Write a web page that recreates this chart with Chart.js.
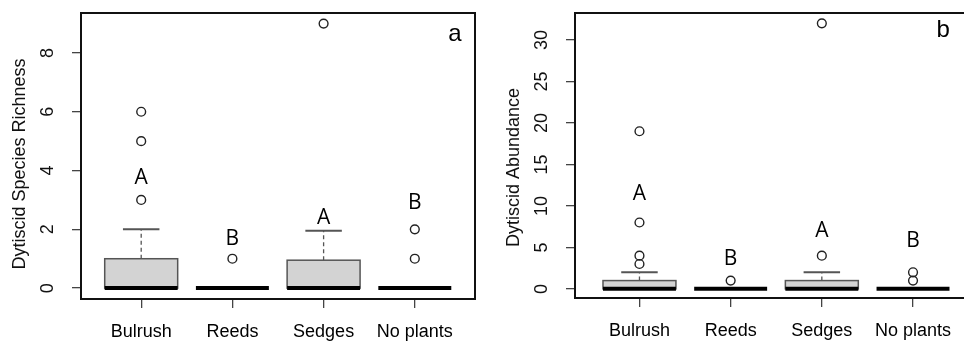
<!DOCTYPE html>
<html>
<head>
<meta charset="utf-8">
<script src="https://cdn.jsdelivr.net/npm/chart.js@4.4.1/dist/chart.umd.min.js"></script>
<style>
    html, body { margin: 0; padding: 0; background: #fff; overflow: hidden; }
    #wrap { position: relative; width: 964px; height: 342px; overflow: hidden; }
    .panel { position: absolute; top: 0; }
    #panelA { left: 0; }
    #panelB { left: 484px; }
</style>
</head>
<body>
<div id="wrap">
    <div class="panel" id="panelA"><canvas id="richnessChart" width="484" height="342"></canvas></div>
    <div class="panel" id="panelB"><canvas id="abundanceChart" width="495" height="342"></canvas></div>
</div>
<script>
// --- DATA ---
const categories = ['Bulrush', 'Reeds', 'Sedges', 'No plants'];

// (a) species richness
const richLower = [0, 0, 0, 0];
const richQ1 = [0, 0, 0, 0];
const richMedian = [0, 0, 0, 0];
const richQ3 = [1, 0, 0.95, 0];
const richUpper = [2, 0, 1.95, 0];
const richOutliers = [[3, 5, 6], [1], [9], [1, 2]];
const richLetters = ['A', 'B', 'A', 'B'];
const richLetterAt = [3.8, 1.72, 2.44, 2.95];
const richTicks = [0, 2, 4, 6, 8];

// (b) abundance
const abunLower = [0, 0, 0, 0];
const abunQ1 = [0, 0, 0, 0];
const abunMedian = [0, 0, 0, 0];
const abunQ3 = [1, 0, 1, 0];
const abunUpper = [2, 0, 2, 0];
const abunOutliers = [[3, 4, 8, 19], [1], [4, 32], [1, 2]];
const abunLetters = ['A', 'B', 'A', 'B'];
const abunLetterAt = [11.6, 3.75, 7.2, 6.0];
const abunTicks = [0, 5, 10, 15, 20, 25, 30];

// --- STYLE ---
const BOX_WIDTH = 0.8;
const SANS = '"Liberation Sans", Arial, sans-serif';

function outlierPoints(groups) {
    const pts = [];
    groups.forEach((vals, i) => vals.forEach(v => pts.push({ x: i + 1, y: v })));
    return pts;
}

// draws boxes, whiskers, medians, letters and R-style y labels
function boxPlotPlugin(cfg) {
    return {
        id: 'boxplot_' + cfg.panel,
        beforeDatasetsDraw(chart) {
            const { ctx, chartArea: a, scales: { x, y } } = chart;
            ctx.save();
            cfg.median.forEach((m, i) => {
                const cx = x.getPixelForValue(i + 1);
                const half = x.getPixelForValue(i + 1 + BOX_WIDTH / 2) - cx;
                const yQ1 = y.getPixelForValue(cfg.q1[i]);
                const yQ3 = y.getPixelForValue(cfg.q3[i]);
                const yHi = y.getPixelForValue(cfg.upper[i]);
                const yLo = y.getPixelForValue(cfg.lower[i]);
                const yMed = y.getPixelForValue(m);

                // whiskers
                ctx.strokeStyle = '#555';
                ctx.lineWidth = 1.3;
                if (cfg.upper[i] > cfg.q3[i]) {
                    ctx.setLineDash([4, 3]);
                    ctx.beginPath(); ctx.moveTo(cx, yQ3); ctx.lineTo(cx, yHi); ctx.stroke();
                    ctx.setLineDash([]);
                    ctx.lineWidth = 2;
                    ctx.beginPath(); ctx.moveTo(cx - half / 2, yHi); ctx.lineTo(cx + half / 2, yHi); ctx.stroke();
                }
                if (cfg.lower[i] < cfg.q1[i]) {
                    ctx.lineWidth = 1.3;
                    ctx.setLineDash([4, 3]);
                    ctx.beginPath(); ctx.moveTo(cx, yQ1); ctx.lineTo(cx, yLo); ctx.stroke();
                    ctx.setLineDash([]);
                    ctx.lineWidth = 2;
                    ctx.beginPath(); ctx.moveTo(cx - half / 2, yLo); ctx.lineTo(cx + half / 2, yLo); ctx.stroke();
                }

                // box
                if (cfg.q3[i] > cfg.q1[i]) {
                    ctx.fillStyle = '#d3d3d3';
                    ctx.fillRect(cx - half, yQ3, half * 2, yQ1 - yQ3);
                    ctx.strokeStyle = '#555';
                    ctx.lineWidth = 1.5;
                    ctx.strokeRect(cx - half, yQ3, half * 2, yQ1 - yQ3);
                }

                // median
                ctx.strokeStyle = '#000';
                ctx.lineWidth = 4;
                ctx.beginPath(); ctx.moveTo(cx - half, yMed); ctx.lineTo(cx + half, yMed); ctx.stroke();
            });

            // plot frame
            ctx.strokeStyle = '#111';
            ctx.lineWidth = 2;
            ctx.strokeRect(a.left, a.top, a.right - a.left, a.bottom - a.top);
            ctx.restore();
        },
        afterDatasetsDraw(chart) {
            const { ctx, chartArea: a, scales: { x, y } } = chart;
            ctx.save();

            // significance letters
            ctx.fillStyle = '#000';
            ctx.font = '21px "Open Sans", sans-serif';
            ctx.textAlign = 'center';
            ctx.textBaseline = 'alphabetic';
            cfg.letters.forEach((l, i) => {
                ctx.fillText(l, x.getPixelForValue(i + 1), y.getPixelForValue(cfg.letterAt[i]) + 7.5);
            });

            // panel letter
            ctx.font = '24px ' + SANS;
            ctx.fillText(cfg.panel, a.right - cfg.panelDx, a.top + cfg.panelDy);

            // rotated y tick labels
            ctx.font = '18px ' + SANS;
            ctx.fillStyle = '#111';
            y.ticks.forEach(t => {
                ctx.save();
                ctx.translate(a.left - 28, y.getPixelForValue(t.value));
                ctx.rotate(-Math.PI / 2);
                ctx.fillText(String(t.value), 0, 0);
                ctx.restore();
            });

            // y title
            ctx.font = cfg.titleSize + 'px ' + SANS;
            ctx.translate(a.left - 56, (a.top + a.bottom) / 2 + cfg.titleShift);
            ctx.rotate(-Math.PI / 2);
            ctx.fillText(cfg.title, 0, 0);
            ctx.restore();
        }
    };
}

function makeBoxChart(id, cfg) {
    const el = document.getElementById(id);
    if (!el) return;
    new Chart(el, {
        type: 'scatter',
        data: {
            datasets: [{
                data: outlierPoints(cfg.outliers),
                pointStyle: 'circle',
                pointRadius: 4.4,
                pointHoverRadius: 4.4,
                borderWidth: 1.4,
                borderColor: '#222',
                backgroundColor: 'rgba(0,0,0,0)'
            }]
        },
        options: {
            responsive: false,
            animation: false,
            events: [],
            layout: { padding: { top: 13, right: cfg.padRight, left: 0, bottom: 0 } },
            plugins: { legend: { display: false }, tooltip: { enabled: false } },
            scales: {
                x: {
                    type: 'linear',
                    min: cfg.xMin,
                    max: cfg.xMax,
                    afterBuildTicks: s => { s.ticks = categories.map((c, i) => ({ value: i + 1 })); },
                    afterFit: s => { s.height = cfg.xAxisHeight; },
                    ticks: {
                        callback: v => categories[v - 1],
                        font: { family: SANS, size: 18 },
                        color: '#000',
                        padding: 13,
                        autoSkip: false,
                        maxRotation: 0
                    },
                    grid: { drawOnChartArea: false, drawTicks: true, tickLength: 9, color: '#444', lineWidth: 1.3 },
                    border: { display: false }
                },
                y: {
                    min: cfg.yMin,
                    max: cfg.yMax,
                    afterBuildTicks: s => { s.ticks = cfg.ticks.map(v => ({ value: v })); },
                    afterFit: s => { s.width = cfg.yAxisWidth; },
                    ticks: { display: false },
                    grid: { drawOnChartArea: false, drawTicks: true, tickLength: 9, color: '#444', lineWidth: 1.3 },
                    border: { display: false }
                }
            }
        },
        plugins: [boxPlotPlugin(cfg)]
    });
}

document.addEventListener('DOMContentLoaded', () => {
    makeBoxChart('richnessChart', {
        panel: 'a',
        title: 'Dytiscid Species Richness',
        titleSize: 18,
        titleShift: 8,
        lower: richLower, q1: richQ1, median: richMedian, q3: richQ3, upper: richUpper,
        outliers: richOutliers, letters: richLetters, letterAt: richLetterAt, ticks: richTicks,
        xMin: 0.34, xMax: 4.66, yMin: -0.37, yMax: 9.36,
        yAxisWidth: 81, xAxisHeight: 43, padRight: 9,
        panelDx: 20, panelDy: 28
    });

    makeBoxChart('abundanceChart', {
        panel: 'b',
        title: 'Dytiscid Abundance',
        titleSize: 18,
        titleShift: 12,
        lower: abunLower, q1: abunQ1, median: abunMedian, q3: abunQ3, upper: abunUpper,
        outliers: abunOutliers, letters: abunLetters, letterAt: abunLetterAt, ticks: abunTicks,
        xMin: 0.293, xMax: 4.66, yMin: -1.1, yMax: 33.25,
        yAxisWidth: 91, xAxisHeight: 44, padRight: 2,
        panelDx: 30, panelDy: 24
    });
});
</script>
</body>
</html>
